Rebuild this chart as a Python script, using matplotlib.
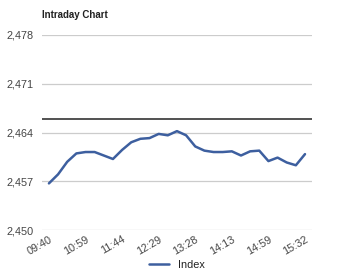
import numpy as np
import matplotlib.pyplot as plt

# index values (one every ~11 minutes)
index_values = [2456.7, 2458.0, 2459.8, 2461.0, 2461.2, 2461.2, 2460.7, 2460.2,
                2461.5, 2462.6, 2463.1, 2463.2, 2463.8, 2463.6, 2464.2, 2463.6,
                2462.0, 2461.4, 2461.2, 2461.2, 2461.3, 2460.7, 2461.3, 2461.4,
                2459.9, 2460.4, 2459.7, 2459.3, 2460.9]
tick_labels = ['09:40', '10:59', '11:44', '12:29', '13:28', '14:13', '14:59', '15:32']
prev_close = 2465.9
y_ticks = [2450, 2457, 2464, 2471, 2478]

plt.rcParams['font.family'] = 'Liberation Sans'
fig = plt.figure(figsize=(3.55, 2.71), dpi=100)
ax = fig.add_axes([0.118, 0.151, 0.761, 0.72])

x = np.arange(len(index_values))
ax.plot(x, index_values, color='#3d5f9f', linewidth=1.8, label='Index',
        solid_joinstyle='round', solid_capstyle='round', zorder=3)
ax.axhline(prev_close, color='#222222', linewidth=1.1, zorder=2)

ax.set_ylim(2450, 2478)
ax.set_yticks(y_ticks)
ax.set_yticklabels([f'{v:,}' for v in y_ticks])
ax.set_xlim(-0.77, len(index_values) - 1 + 0.77)
ax.set_xticks(x[::4])
ax.set_xticklabels(tick_labels, rotation=30, ha='right', rotation_mode='anchor')

ax.grid(axis='y', color='#cccccc', linewidth=0.9)
ax.set_axisbelow(True)
for s in ax.spines.values():
    s.set_visible(False)
ax.tick_params(length=0, labelsize=7.8, labelcolor='#444444')
ax.tick_params(axis='y', pad=6)
ax.tick_params(axis='x', pad=3)

fig.text(0.118, 0.945, 'Intraday Chart', fontsize=7, fontweight='bold', color='#222222', va='center')
ax.legend(loc='center', bbox_to_anchor=(0.5, -0.18), frameon=False,
          fontsize=7.8, handlelength=1.8, labelcolor='#222222',
          borderpad=0, borderaxespad=0)

plt.savefig('out.png', dpi=100)
